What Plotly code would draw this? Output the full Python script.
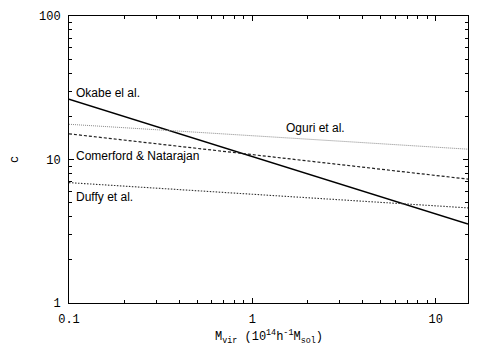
import math

import plotly.graph_objects as go

# mass range endpoints (10^14 h^-1 M_sol)
mass = [0.1, 15]

# concentration at the two ends
okabe_c = [26.3, 3.55]
oguri_c = [17.6, 11.8]
comerford_c = [15.1, 7.3]
duffy_c = [6.9, 4.6]

labels = ["Okabe el al.", "Oguri et al.", "Comerford & Natarajan", "Duffy et al."]
label_x = [0.106, 1.48, 0.106, 0.106]
label_y = [28.9, 16.5, 10.5, 5.5]

x_minor = [0.2, 0.3, 0.4, 0.5, 0.6, 0.7, 0.8, 0.9, 2, 3, 4, 5, 6, 7, 8, 9]
y_minor = [2, 3, 4, 5, 6, 7, 8, 9, 20, 30, 40, 50, 60, 70, 80, 90]

mono = "Liberation Mono, Courier New, monospace"
sans = "Liberation Sans, Arial, sans-serif"

fig = go.Figure()
fig.add_trace(go.Scatter(x=mass, y=okabe_c, mode="lines", line=dict(color="black", width=1.3)))
fig.add_trace(go.Scatter(x=mass, y=oguri_c, mode="lines", line=dict(color="#888888", width=1, dash="1px,1px")))
fig.add_trace(go.Scatter(x=mass, y=comerford_c, mode="lines", line=dict(color="#222222", width=1.2, dash="3px,2px")))
fig.add_trace(go.Scatter(x=mass, y=duffy_c, mode="lines", line=dict(color="#333333", width=1.1, dash="1.5px,1.5px")))

# annotation positions on log axes are given in log10 units
for text, lx, ly in zip(labels, label_x, label_y):
    fig.add_annotation(x=math.log10(lx), y=math.log10(ly), xref="x", yref="y", text=text, showarrow=False,
                       xanchor="left", yanchor="middle",
                       font=dict(family=sans, size=12, color="black"))

# x axis title placed by hand, below the tick labels
fig.add_annotation(x=0.5, y=0, xref="paper", yref="paper", yshift=-34, showarrow=False,
                   xanchor="center", yanchor="middle",
                   text="M<sub>vir</sub> (10<sup>14</sup>h<sup>-1</sup>M<sub>sol</sub>)",
                   font=dict(family=mono, size=12, color="black"))

axis_common = dict(
    type="log", showgrid=False, zeroline=False, showline=True, linecolor="black", linewidth=1,
    mirror="allticks", ticks="inside", ticklen=5, tickcolor="black", ticklabelstandoff=5,
    automargin=False, tickfont=dict(family=mono, size=12, color="black"),
)

fig.update_xaxes(
    **axis_common,
    range=[-1, 1.1761],
    tickvals=[0.1, 1, 10], ticktext=["0.1", "1", "10"],
    minor=dict(ticks="inside", ticklen=3, tickcolor="black", showgrid=False, tickvals=x_minor),
)
fig.update_yaxes(
    **axis_common,
    range=[0, 2],
    tickvals=[1, 10, 100], ticktext=["1", "10", "100"],
    minor=dict(ticks="inside", ticklen=3, tickcolor="black", showgrid=False, tickvals=y_minor),
    title=dict(text="c", font=dict(family=mono, size=12, color="black"), standoff=25),
)

# the page body adds an 8px margin, so the figure is sized to fit inside it
fig.update_layout(
    width=483, height=338,
    margin=dict(l=61, r=23, t=8, b=43),
    plot_bgcolor="white", paper_bgcolor="white",
    showlegend=False,
)

fig.write_html("out.html")
